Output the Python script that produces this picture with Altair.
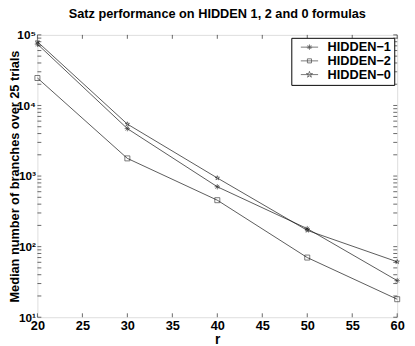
import altair as alt
import pandas as pd

# ---- data ----
r_values = [20, 30, 40, 50, 60]
hidden1 = [74000, 4700, 705, 180, 33]
hidden2 = [24500, 1780, 455, 70, 18]
hidden0 = [80000, 5450, 940, 170, 61]
series_names = ["HIDDEN\u22121", "HIDDEN\u22122", "HIDDEN\u22120"]

x_ticks = [20, 25, 30, 35, 40, 45, 50, 55, 60]
y_major = [10, 100, 1000, 10000, 100000]
y_minor = [k * 10 ** e for e in range(1, 5) for k in range(1, 10)] + [100000]

rows = []
for name, vals in zip(series_names, [hidden1, hidden2, hidden0]):
    for r, v in zip(r_values, vals):
        rows.append({"r": r, "v": v, "series": name})
df = pd.DataFrame(rows)

W, H = 367, 288
FONT = "Liberation Sans"

# marker shapes (unit box -1..1)
asterisk = "M-1,0L1,0M0,-1L0,1M-0.7,-0.7L0.7,0.7M-0.7,0.7L0.7,-0.7"
star = ("M0,-1L0.223,-0.307L0.951,-0.309L0.361,0.117L0.588,0.809L0,0.38"
        "L-0.588,0.809L-0.361,0.117L-0.951,-0.309L-0.223,-0.307Z")


def scaled(path, s):
    out = []
    num = ""
    for ch in path + " ":
        if ch.isdigit() or ch in ".-" and (num == "" or ch != "-"):
            num += ch
        else:
            if num:
                out.append(f"{float(num) * s:.3f}")
                num = ""
            if ch != " ":
                out.append(ch)
    return "".join(out)


def legend_sym(marker, s):
    return "M-1.6,0L1.6,0" + scaled(marker, s)


square_path = "M-1,-1L1,-1L1,1L-1,1Z"

xscale = alt.Scale(domain=[20, 60], nice=False, zero=False)
yscale = alt.Scale(type="log", domain=[10, 100000], nice=False)

label_expr = ("datum.value == 10 ? '10\u00b9' : datum.value == 100 ? '10\u00b2' : "
              "datum.value == 1000 ? '10\u00b3' : datum.value == 10000 ? '10\u2074' : '10\u2075'")

base = alt.Chart(df)

lines = base.mark_line(color="#111111", strokeWidth=0.7).encode(
    x=alt.X("r:Q", scale=xscale,
            axis=alt.Axis(values=x_ticks, title="r", labelFont=FONT, labelFontSize=13,
                          labelFontWeight="bold", titleFont=FONT, titleFontSize=14,
                          titleFontWeight="bold", tickSize=0, domain=False, grid=False,
                          labelPadding=3, titleY=27, titleBaseline="alphabetic",
                          labelColor="black", titleColor="black", labelFlush=False)),
    y=alt.Y("v:Q", scale=yscale,
            axis=alt.Axis(values=y_major, labelExpr=label_expr,
                          title="Median number of branches over 25 trials",
                          labelFont=FONT, labelFontSize=12, labelFontWeight="bold",
                          titleFont=FONT, titleFontSize=13, titleFontWeight="bold",
                          tickSize=0, domain=False, grid=False, labelPadding=2,
                          titleX=-29, titleBaseline="top", labelColor="black",
                          titleColor="black")),
    detail="series:N",
)

points = base.mark_point(filled=False, color="#111111", strokeWidth=0.8, size=36).encode(
    x="r:Q",
    y="v:Q",
    shape=alt.Shape("series:N",
                    scale=alt.Scale(domain=series_names, range=[asterisk, "square", star]),
                    legend=None),
    size=alt.Size("series:N", scale=alt.Scale(domain=series_names, range=[30, 22, 50]),
                  legend=None),
)

legend_layer = alt.Chart(df).transform_filter("false").mark_point(
    filled=False, color="#111111", strokeWidth=0.8
).encode(
    x="r:Q",
    y="v:Q",
    shape=alt.Shape("series:N",
                    scale=alt.Scale(domain=series_names,
                                    range=[legend_sym(asterisk, 0.5),
                                           legend_sym(square_path, 0.38),
                                           legend_sym(star, 0.6)]),
                    legend=alt.Legend(title=None, orient="none", legendX=259, legendY=3,
                                      strokeColor="black", fillColor="white",
                                      padding=3, symbolSize=121, symbolStrokeWidth=0.8,
                                      symbolStrokeColor="#111111", symbolFillColor="transparent",
                                      labelFont=FONT, labelFontSize=13,
                                      labelFontWeight="bold", labelColor="black",
                                      rowPadding=0, labelOffset=12, symbolOffset=9)),
)

# inward tick marks on all four sides
ydf = pd.DataFrame({"v": y_minor})
xdf = pd.DataFrame({"r": x_ticks})
tick_style = dict(color="black", strokeWidth=0.6)
yt_left = alt.Chart(ydf).mark_rule(**tick_style).encode(
    y=alt.Y("v:Q", scale=yscale), x=alt.value(0), x2=alt.value(4))
yt_right = alt.Chart(ydf).mark_rule(**tick_style).encode(
    y=alt.Y("v:Q", scale=yscale), x=alt.value(W - 4), x2=alt.value(W))
xt_bottom = alt.Chart(xdf).mark_rule(**tick_style).encode(
    x=alt.X("r:Q", scale=xscale), y=alt.value(H), y2=alt.value(H - 4))
xt_top = alt.Chart(xdf).mark_rule(**tick_style).encode(
    x=alt.X("r:Q", scale=xscale), y=alt.value(0), y2=alt.value(4))

chart = alt.layer(
    lines, points, legend_layer, yt_left, yt_right, xt_bottom, xt_top
).resolve_scale(shape="independent").properties(
    width=W, height=H,
    title=alt.TitleParams("Satz performance on HIDDEN 1, 2 and 0 formulas",
                          font=FONT, fontSize=13, fontWeight="bold", anchor="middle",
                          offset=8, color="black"),
    autosize=alt.AutoSizeParams(type="none"),
    padding={"left": 30, "top": 24, "right": 10, "bottom": 30},
).configure_view(stroke="black", strokeWidth=0.8).configure(background="white")

chart.save("out.html", embed_options={"renderer": "svg", "actions": False})
